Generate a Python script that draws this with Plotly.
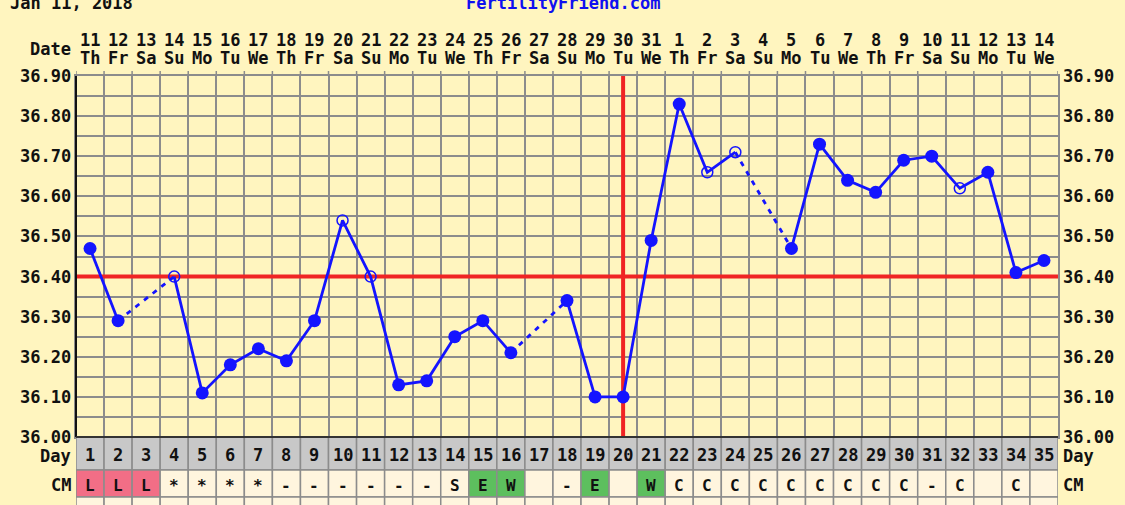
import plotly.graph_objects as go

# ---------------- data ----------------
days = list(range(1, 36))
dates = [11, 12, 13, 14, 15, 16, 17, 18, 19, 20, 21, 22, 23, 24, 25, 26, 27, 28, 29, 30, 31,
         1, 2, 3, 4, 5, 6, 7, 8, 9, 10, 11, 12, 13, 14]
weekdays = ["Th", "Fr", "Sa", "Su", "Mo", "Tu", "We"] * 5
temps = [36.47, 36.29, None, 36.40, 36.11, 36.18, 36.22, 36.19, 36.29, 36.54,
         36.40, 36.13, 36.14, 36.25, 36.29, 36.21, None, 36.34, 36.10, 36.10,
         36.49, 36.83, 36.66, 36.71, None, 36.47, 36.73, 36.64, 36.61, 36.69,
         36.70, 36.62, 36.66, 36.41, 36.44]
open_days = [4, 10, 11, 23, 24, 32]
cm = ["L", "L", "L", "*", "*", "*", "*", "-", "-", "-", "-", "-", "-", "S", "E", "W", "", "-", "E", "",
      "W", "C", "C", "C", "C", "C", "C", "C", "C", "C", "-", "C", "", "C", ""]
cm_colors = {"L": "#F26E86", "E": "#5DBF5E", "W": "#5DBF5E"}
temp_ticks = [36.00, 36.10, 36.20, 36.30, 36.40, 36.50, 36.60, 36.70, 36.80, 36.90]
coverline = 36.40
ovulation_day = 20
header_left = "Jan 11, 2018"
header_mid = "FertilityFriend.com"

# ---------------- geometry helpers ----------------
L, R, T, B = 76, 1058, 76, 437
W, H = 1125, 505
PH = B - T
PW = R - L


def py(p):
    return (B - p) / PH


def px(p):
    return (p - L) / PW


FONT = "DejaVu Sans Mono"
BLUE = "#1414FF"
GRID = "#8C8C8C"
BG = "#FFF5BF"
TXT = dict(family=FONT, size=17, color="#111", weight="bold")

fig = go.Figure()

filled_x = [d for d, t in zip(days, temps) if t is not None and d not in open_days]
filled_y = [t for d, t in zip(days, temps) if t is not None and d not in open_days]
open_x = [d for d, t in zip(days, temps) if t is not None and d in open_days]
open_y = [t for d, t in zip(days, temps) if t is not None and d in open_days]

fig.add_trace(go.Scatter(x=days, y=temps, mode="lines", connectgaps=False,
                         line=dict(color=BLUE, width=2.8), hoverinfo="skip", showlegend=False))
for i, t in enumerate(temps):
    if t is None:
        a = i - 1
        b = i + 1
        while temps[b] is None:
            b += 1
        fig.add_trace(go.Scatter(x=[days[a], days[b]], y=[temps[a], temps[b]], mode="lines",
                                 line=dict(color=BLUE, width=2.8, dash="5px,6px"),
                                 hoverinfo="skip", showlegend=False))
fig.add_trace(go.Scatter(x=filled_x, y=filled_y, mode="markers",
                         marker=dict(color=BLUE, size=13), showlegend=False))
fig.add_trace(go.Scatter(x=open_x, y=open_y, mode="markers",
                         marker=dict(color=BLUE, size=11, symbol="circle-open", line=dict(width=1.5)),
                         showlegend=False))

shapes = []
shapes.append(dict(type="line", xref="x", yref="y", x0=0.5, x1=35.5, y0=coverline, y1=coverline,
                   line=dict(color="#F02424", width=4), layer="between"))
shapes.append(dict(type="line", xref="x", yref="y", x0=ovulation_day, x1=ovulation_day,
                   y0=36.0, y1=36.9, line=dict(color="#F02424", width=4), layer="between"))
for d in days + [36]:
    shapes.append(dict(type="line", xref="x", yref="paper", x0=d - 0.5, x1=d - 0.5,
                       y0=1, y1=py(T - 5), line=dict(color=GRID, width=1.5)))

annotations = []


def ann(x, y, text, xref="x", yref="paper", xanchor="center", xshift=0, font=None):
    annotations.append(dict(x=x, y=y, xref=xref, yref=yref, text=text, showarrow=False,
                            xanchor=xanchor, yanchor="middle", xshift=xshift,
                            font=font or TXT))


for i, d in enumerate(days):
    shapes.append(dict(type="rect", xref="x", yref="paper", x0=d - 0.5, x1=d + 0.5,
                       y0=py(437), y1=py(470), fillcolor="#C8C8C8",
                       line=dict(color=GRID, width=1.5)))
    code = cm[i]
    shapes.append(dict(type="rect", xref="x", yref="paper", x0=d - 0.5, x1=d + 0.5,
                       y0=py(470), y1=py(497), fillcolor=cm_colors.get(code, "#FFF5DE"),
                       line=dict(color=GRID, width=1.5)))
    shapes.append(dict(type="rect", xref="x", yref="paper", x0=d - 0.5, x1=d + 0.5,
                       y0=py(497), y1=py(540), fillcolor="#FFF5DE",
                       line=dict(color=GRID, width=1.5)))
    ann(d, py(455), str(d))
    if code:
        ann(d, py(485), code, font=dict(TXT, size=16))
    ann(d, py(40), str(dates[i]))
    ann(d, py(58), weekdays[i])

for t in temp_ticks:
    txt = f"{t:.2f}"
    ann(0, t, txt, xref="paper", yref="y", xanchor="right", xshift=-3)
    ann(1, t, txt, xref="paper", yref="y", xanchor="left", xshift=3)

for lab, p in [("Date", 49), ("Day", 456), ("CM", 485)]:
    ann(0, py(p), lab, xref="paper", xanchor="right", xshift=-3)
for lab, p in [("Day", 456), ("CM", 485)]:
    ann(1, py(p), lab, xref="paper", xanchor="left", xshift=3)

ann(px(8), py(3), header_left, xref="paper", xanchor="left")
ann(px(563), py(3), header_mid, xref="paper", xanchor="center",
    font=dict(TXT, color="#1010F0"))

shapes.append(dict(type="line", xref="paper", yref="paper", x0=0, x1=0, y0=0, y1=1,
                   line=dict(color="#111", width=2)))
shapes.append(dict(type="line", xref="paper", yref="paper", x0=0, x1=1, y0=0, y1=0,
                   line=dict(color="#333", width=2)))

fig.update_layout(
    width=W, height=H,
    margin=dict(l=L, r=W - R, t=T, b=H - B, autoexpand=False),
    paper_bgcolor=BG, plot_bgcolor=BG,
    showlegend=False,
    shapes=shapes, annotations=annotations,
    xaxis=dict(range=[0.5, 35.5], tick0=0.5, dtick=1, showgrid=True, gridcolor=GRID, gridwidth=1.5,
               showticklabels=False, zeroline=False, showline=True, mirror=True, linecolor=GRID,
               linewidth=1.5, fixedrange=True),
    yaxis=dict(range=[36.0, 36.9], tick0=36.0, dtick=0.05, showgrid=True, gridcolor=GRID,
               gridwidth=1.5, showticklabels=False, zeroline=False, showline=True, mirror=True,
               linecolor=GRID, linewidth=1.5, fixedrange=True),
)

fig.write_html("out.html", config={"displayModeBar": False},
               post_script="document.body.style.margin='0';document.body.style.overflow='hidden';")
